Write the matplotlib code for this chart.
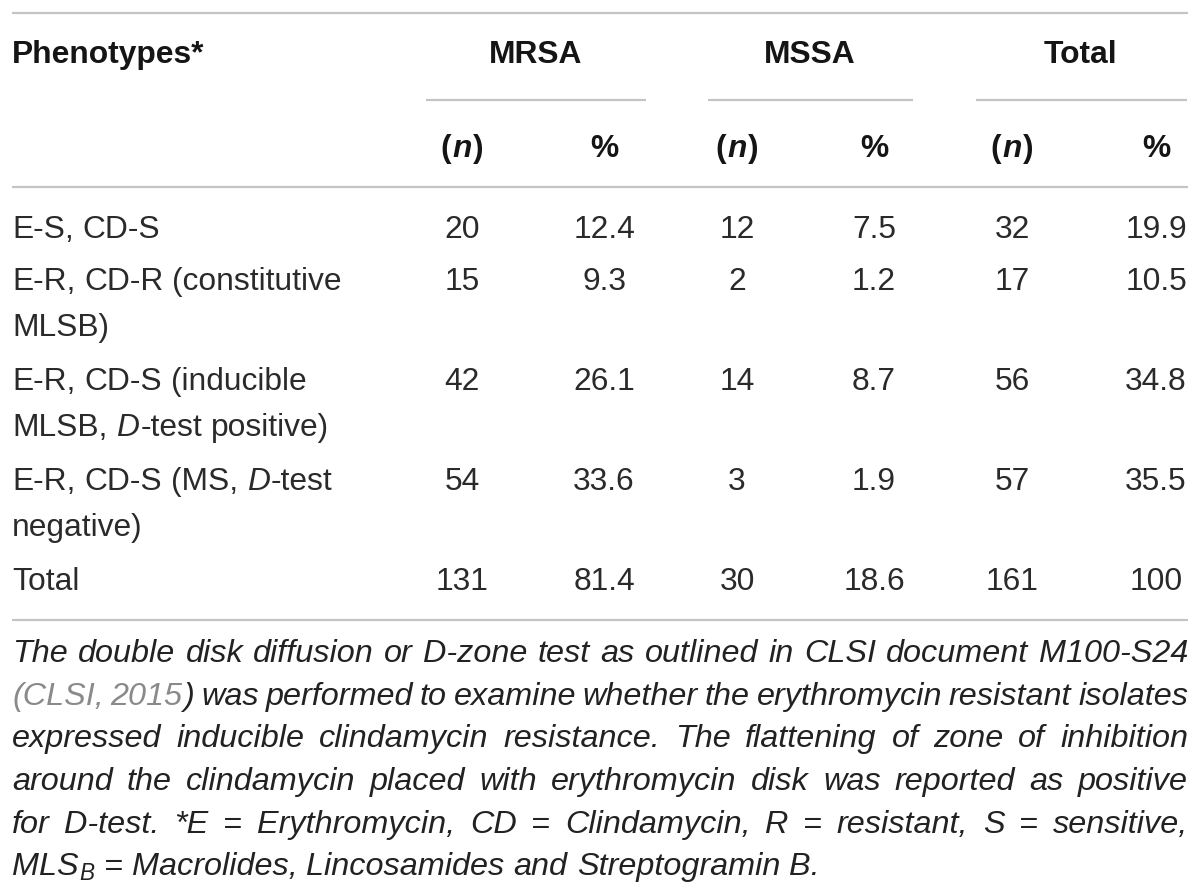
import matplotlib
matplotlib.use("Agg")
import matplotlib.pyplot as plt

BODY = ["Liberation Sans", "DejaVu Sans"]

# ---- table data ----
groups = ["MRSA", "MSSA", "Total"]
sub_heads = ["(~n~)", "%"]
phenotypes = [
    ["E-S, CD-S"],
    ["E-R, CD-R (constitutive", "MLSB)"],
    ["E-R, CD-S (inducible", "MLSB, ~D~-test positive)"],
    ["E-R, CD-S (MS, ~D~-test", "negative)"],
    ["Total"],
]
mrsa_n = ["20", "15", "42", "54", "131"]
mrsa_pct = ["12.4", "9.3", "26.1", "33.6", "81.4"]
mssa_n = ["12", "2", "14", "3", "30"]
mssa_pct = ["7.5", "1.2", "8.7", "1.9", "18.6"]
total_n = ["32", "17", "56", "57", "161"]
total_pct = ["19.9", "10.5", "34.8", "35.5", "100"]

# ~ toggles grey (citation), | toggles subscript
caption = [
    "The double disk diffusion or D-zone test as outlined in CLSI document M100-S24",
    "~(CLSI, 2015~) was performed to examine whether the erythromycin resistant isolates",
    "expressed inducible clindamycin resistance. The flattening of zone of inhibition",
    "around the clindamycin placed with erythromycin disk was reported as positive",
    "for D-test. *E = Erythromycin, CD = Clindamycin, R = resistant, S = sensitive,",
    "MLS|B| = Macrolides, Lincosamides and Streptogramin B.",
]

# ---- layout ----
L, R = 12, 1188
rule_c = "#c4c4c4"
col_x = [462, 604, 737, 874, 1012, 1156]
group_x = [536, 810, 1080]
group_lines = [(426, 646), (708, 913), (976, 1187)]
row_y = [238, 290, 390, 490, 590]
line_gap = 46
fs = 22.9
cap_y = [662, 705, 747, 790, 833, 875]

fig = plt.figure(figsize=(12, 8.96), dpi=100)
ax = fig.add_axes([0, 0, 1, 1])
ax.set_xlim(0, 1200)
ax.set_ylim(896, 0)
ax.axis("off")
rend = fig.canvas.get_renderer()


def mk(s, x, y, size, family, **kw):
    return ax.text(x, y, s, fontsize=size, family=family, va="baseline", ha="left", **kw)


def wid(t):
    return t.get_window_extent(rend).width


def space_w(size, family, **kw):
    a = mk("x x", 0, 0, size, family, **kw)
    b = mk("xx", 0, 0, size, family, **kw)
    w = wid(a) - wid(b)
    a.remove()
    b.remove()
    return w


def parse(s, sub=False):
    # words -> list of (text, toggled, subscript)
    words = []
    state = False
    sstate = False
    for w in s.split(" "):
        parts = []
        buf = ""
        for ch in w:
            if ch == "~" or (sub and ch == "|"):
                if buf:
                    parts.append((buf, state, sstate))
                buf = ""
                if ch == "~":
                    state = not state
                else:
                    sstate = not sstate
            else:
                buf += ch
        if buf:
            parts.append((buf, state, sstate))
        words.append(parts)
    return words


def draw_words(x, y, words, size, family, style_fn, ha="left", justify_to=None):
    placed = []
    wws = []
    for word in words:
        objs = []
        for txt, flag, sflag in word:
            kw = style_fn(flag)
            sz = size * 0.7 if sflag else size
            t = mk(txt, 0, y + (5 if sflag else 0), sz, family, **kw)
            objs.append(t)
        placed.append(objs)
        wws.append(sum(wid(t) + 1 for t in objs) - 1)
    gap = space_w(size, family, **style_fn(False))
    total = sum(wws) + gap * (len(words) - 1)
    if justify_to is not None and len(words) > 1:
        gap = (justify_to - x - sum(wws)) / (len(words) - 1)
        total = justify_to - x
    if ha == "center":
        x = x - total / 2
    for objs, ww in zip(placed, wws):
        cx = x
        for t in objs:
            t.set_x(cx)
            cx += wid(t) + 1
        x += ww + gap


def table_style(bold):
    def f(flag):
        return {"color": "#151515" if bold else "#2a2a2a",
                "weight": "bold" if bold else "normal",
                "style": "italic" if flag else "normal"}
    return f


def cell(x, y, s, bold=False, ha="left"):
    draw_words(x, y, parse(s), fs, BODY, table_style(bold), ha=ha)


# rules
for yy in (13, 187, 620):
    ax.plot([L, R], [yy, yy], color=rule_c, lw=1.6, solid_capstyle="butt")
for x0, x1 in group_lines:
    ax.plot([x0, x1], [100, 100], color=rule_c, lw=1.6, solid_capstyle="butt")

# header
cell(L, 63, "Phenotypes*", bold=True)
for gx, g in zip(group_x, groups):
    cell(gx, 63, g, bold=True, ha="center")
for i, cx in enumerate(col_x):
    cell(cx, 157, sub_heads[i % 2], bold=True, ha="center")

# body
columns = [mrsa_n, mrsa_pct, mssa_n, mssa_pct, total_n, total_pct]
for r, lines in enumerate(phenotypes):
    for k, ln in enumerate(lines):
        cell(L, row_y[r] + k * line_gap, ln)
    for cx, col in zip(col_x, columns):
        cell(cx, row_y[r], col[r], ha="center")


# caption
def cap_style(flag):
    return {"color": "#8a8a8a" if flag else "#222222", "style": "italic"}


probe = mk(caption[0], 0, 0, 20, BODY, style="italic")
cap_fs = 20 * (R - L) / wid(probe) * 0.985
probe.remove()

for i, ln in enumerate(caption):
    last = i == len(caption) - 1
    draw_words(L, cap_y[i], parse(ln, sub=True), cap_fs, BODY, cap_style,
               justify_to=None if last else R)

fig.savefig("out.png", dpi=100, facecolor="white")
